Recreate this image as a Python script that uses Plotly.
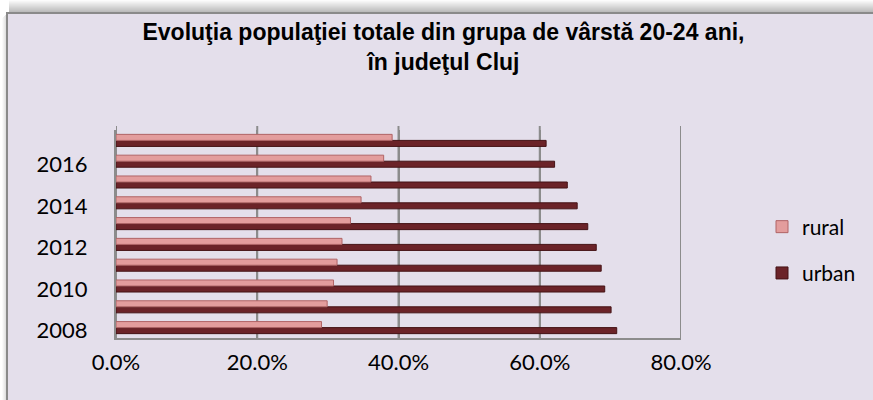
import plotly.graph_objects as go

years = [2008, 2009, 2010, 2011, 2012, 2013, 2014, 2015, 2016, 2017]
rural = [0.291, 0.299, 0.308, 0.313, 0.320, 0.332, 0.347, 0.361, 0.379, 0.391]
urban = [0.709, 0.701, 0.692, 0.687, 0.680, 0.668, 0.653, 0.639, 0.621, 0.609]
x_ticks = [0, 0.2, 0.4, 0.6, 0.8]
y_ticks = [2008, 2010, 2012, 2014, 2016]
title_text = "Evoluţia populaţiei totale din grupa de vârstă 20-24 ani,<br>în judeţul Cluj"

W, H = 873, 400
L, R, T, B = 116, 192, 130, 62
PW, PH = W - L - R, H - T - B


def xp(px):
    return (px - L) / PW


def yp(py):
    return (H - B - py) / PH


fig = go.Figure()
fig.add_trace(go.Bar(
    y=years, x=urban, name="urban", orientation="h", legendgroup="u", legendrank=2,
    marker=dict(color="#6B2328", line=dict(color="#451316", width=1)),
))
fig.add_trace(go.Bar(
    y=years, x=rural, name="rural", orientation="h", legendgroup="r", legendrank=1,
    marker=dict(color="#E39D9D", line=dict(color="#B06466", width=1)),
))

shapes = []
# shadow above the chart box
for i in range(12):
    a = 0.02 + 0.035 * i
    shapes.append(dict(type="rect", xref="paper", yref="paper", layer="below",
                       x0=xp(9), x1=xp(880), y0=yp(1 + i), y1=yp(i),
                       fillcolor=f"rgba(90,90,90,{a:.3f})", line=dict(width=0)))
for i in range(5):
    a = 0.03 + 0.05 * i
    shapes.append(dict(type="rect", xref="paper", yref="paper", layer="below",
                       x0=xp(2 + i), x1=xp(3 + i), y0=yp(410), y1=yp(13 + 5 - i),
                       fillcolor=f"rgba(90,90,90,{a:.3f})", line=dict(width=0)))
# chart box
shapes.append(dict(type="rect", xref="paper", yref="paper", layer="below",
                   x0=xp(7), x1=xp(885), y0=yp(415), y1=yp(13),
                   fillcolor="#E4DFEB", line=dict(color="#8A8A8A", width=2)))
# back-wall gridlines (full height, slightly above the plot area for the 3D look)
for v in x_ticks:
    shapes.append(dict(type="line", xref="x", yref="paper", layer="below",
                       x0=v, x1=v, y0=0, y1=yp(126),
                       line=dict(color="#8C8C8C", width=2)))

fig.update_layout(
    width=W, height=H,
    margin=dict(l=L, r=R, t=T, b=B, pad=0),
    paper_bgcolor="white",
    plot_bgcolor="rgba(0,0,0,0)",
    barmode="group",
    bargap=0.42,
    bargroupgap=0,
    shapes=shapes,
    title=dict(text=title_text, x=0.508, xanchor="center", y=1 - 40 / H, yanchor="top",
               font=dict(family="Liberation Sans", size=23, color="black", weight="bold")),
    legend=dict(x=xp(762), y=yp(250), xanchor="left", yanchor="middle",
                traceorder="grouped", tracegroupgap=16,
                font=dict(family="Lato", size=21, color="black"),
                bgcolor="rgba(0,0,0,0)"),
    xaxis=dict(range=[0, 0.8], tickvals=x_ticks, tickformat=".1%",
               showgrid=True, gridcolor="#8C8C8C", gridwidth=2,
               zeroline=False, showline=True, linecolor="#8C8C8C", linewidth=2,
               ticks="", ticklabelstandoff=4,
               tickfont=dict(family="Lato", size=22, color="black")),
    yaxis=dict(range=[2007.5, 2017.5], tickvals=y_ticks,
               showgrid=False, zeroline=False, showline=True,
               linecolor="#8C8C8C", linewidth=2, ticks="",
               ticklabelstandoff=22, ticklabelshift=3,
               tickfont=dict(family="Lato", size=22, color="black")),
    font=dict(family="Lato", color="black"),
)

fig.write_html(
    "out.html",
    config={"displayModeBar": False},
    post_script="document.body.style.margin='0px';document.body.style.overflow='hidden';window.scrollTo(0,0);",
)
